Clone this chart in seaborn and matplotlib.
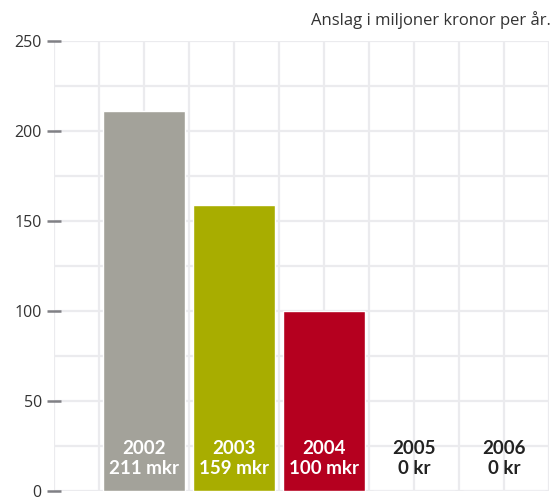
import numpy as np
import pandas as pd
import matplotlib.pyplot as plt
import seaborn as sns

# data
years = ["2002", "2003", "2004", "2005", "2006"]
values = [211, 159, 100, 0, 0]
amount_labels = ["211 mkr", "159 mkr", "100 mkr", "0 kr", "0 kr"]
bar_colors = ["#a3a29a", "#a8ad00", "#b5001f", "#a3a29a", "#a3a29a"]
label_colors = ["white", "white", "white", "#222222", "#222222"]

sns.set_style("white")
plt.rcParams["font.family"] = ["Open Sans", "DejaVu Sans"]

df = pd.DataFrame({"year": years, "value": values})

fig = plt.figure(figsize=(5.55, 4.97), dpi=100)
ax = fig.add_axes([0.0973, 0.012, 0.8919, 0.9055])

sns.barplot(data=df, x="year", y="value", hue="year", palette=bar_colors,
            legend=False, width=0.91, saturation=1, ax=ax, zorder=3)

ax.set_xlim(-1, 4.5)
ax.set_ylim(0, 250)

# grid: squares of 25 units
ax.set_xticks([])
ax.set_xticks(np.arange(-1, 4.51, 0.5), minor=True)
ax.set_yticks(np.arange(0, 251, 50))
ax.set_yticks(np.arange(0, 251, 25), minor=True)
ax.grid(which="both", color="#ebebee", linewidth=1.6, zorder=0)
ax.set_axisbelow(True)
ax.tick_params(axis="x", which="minor", length=0)
ax.tick_params(axis="y", which="minor", length=0)
ax.tick_params(axis="y", which="major", left=True, direction="inout", length=9.5,
               width=1.8, color="#808085", pad=4, labelsize=11.5, labelcolor="#333333")

for s in ax.spines.values():
    s.set_visible(False)

ax.set_xlabel("")
ax.set_ylabel("")

# labels inside the bars
for i, (yr, amt) in enumerate(zip(years, amount_labels)):
    ax.text(i, 18, f"{yr}\n{amt}", ha="center", va="center",
            fontsize=13.5, fontweight="bold", color=label_colors[i],
            family=["Lato", "DejaVu Sans"], linespacing=1.25, zorder=4)

fig.text(0.993, 0.96, "Anslag i miljoner kronor per år.", ha="right", va="center",
         fontsize=12, color="#333333")

fig.savefig("out.png", dpi=100)
plt.close()
